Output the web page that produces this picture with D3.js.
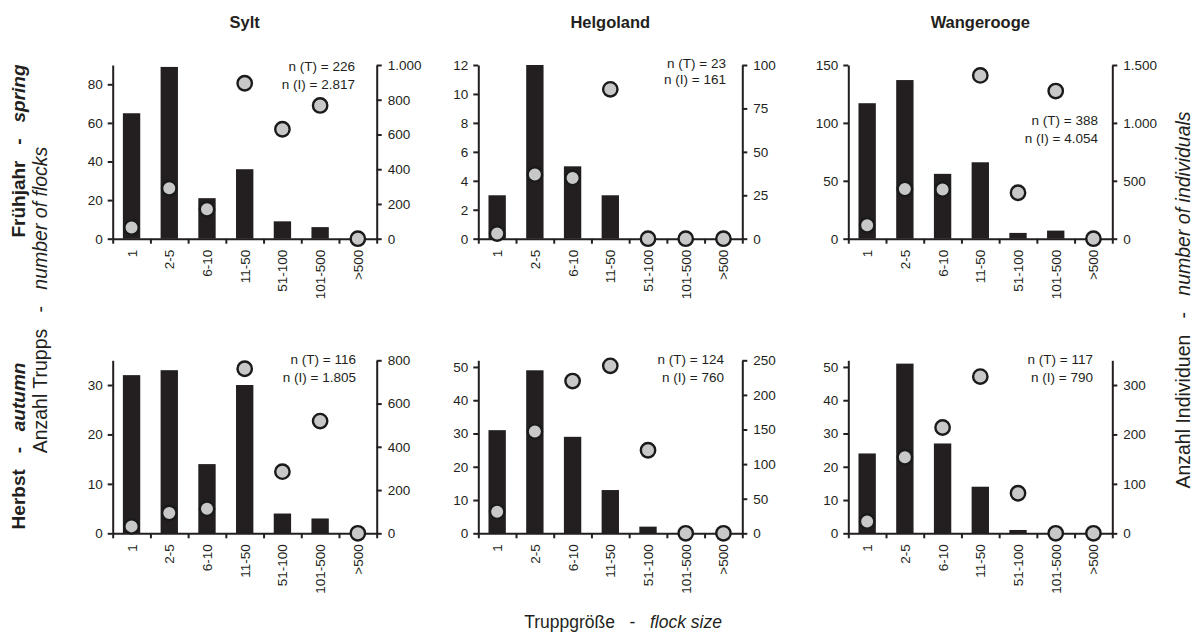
<!DOCTYPE html>
<html><head><meta charset="utf-8">
<script src="https://cdn.jsdelivr.net/npm/d3@7/dist/d3.min.js"></script>
<style>
html,body{margin:0;padding:0;background:#fff;}
svg text{font-family:"Liberation Sans",Arial,sans-serif;fill:#231f20;}
</style></head>
<body>
<svg id="chart" width="1204" height="639"></svg>
<script>
// ---------- data ----------
const categories = ["1","2-5","6-10","11-50","51-100","101-500",">500"];
const islands = ["Sylt","Helgoland","Wangerooge"];
const seasonLabels = [["Frühjahr","spring"],["Herbst","autumn"]];

const flocksSyltSpring        = [65, 89, 21, 36, 9, 6, 0];
const indivSyltSpring         = [65, 290, 170, 895, 630, 767, 0];
const flocksHelgolandSpring   = [3, 12, 5, 3, 0, 0, 0];
const indivHelgolandSpring    = [3, 37, 35, 86, 0, 0, 0];
const flocksWangeroogeSpring  = [117, 137, 56, 66, 5, 7, 0];
const indivWangeroogeSpring   = [117, 430, 425, 1410, 397, 1275, 0];
const flocksSyltAutumn        = [32, 33, 14, 30, 4, 3, 0];
const indivSyltAutumn         = [32, 94, 114, 761, 285, 519, 0];
const flocksHelgolandAutumn   = [31, 49, 29, 13, 2, 0, 0];
const indivHelgolandAutumn    = [31, 147, 220, 242, 120, 0, 0];
const flocksWangeroogeAutumn  = [24, 51, 27, 14, 1, 0, 0];
const indivWangeroogeAutumn   = [24, 154, 214, 317, 81, 0, 0];

const nT = [[226, 23, 388], [116, 124, 117]];
const nI = [[2817, 161, 4054], [1805, 760, 790]];

const leftMax   = [[90, 12, 150], [35, 52, 52]];
const leftTicks = [[[0,20,40,60,80],[0,2,4,6,8,10,12],[0,50,100,150]],
                   [[0,10,20,30],[0,10,20,30,40,50],[0,10,20,30,40,50]]];
const rightMax   = [[1000, 100, 1500], [800, 250, 350]];
const rightTicks = [[[0,200,400,600,800,1000],[0,25,50,75,100],[0,500,1000,1500]],
                    [[0,200,400,600,800],[0,50,100,150,200,250],[0,100,200,300]]];

const flocks = [[flocksSyltSpring, flocksHelgolandSpring, flocksWangeroogeSpring],
                [flocksSyltAutumn, flocksHelgolandAutumn, flocksWangeroogeAutumn]];
const indiv  = [[indivSyltSpring, indivHelgolandSpring, indivWangeroogeSpring],
                [indivSyltAutumn, indivHelgolandAutumn, indivWangeroogeAutumn]];

// ---------- layout ----------
const panelX = [112.7, 478.3, 848.3];
const panelW = 264;
const rowTop = [65, 360.3];
const rowZero = [238.7, 533.3];
const annot = [[{x:355,y:[71,89]},{x:726,y:[68,84]},{x:1098,y:[125,143]}],
               [{x:356,y:[364,382]},{x:724,y:[364,382]},{x:1093,y:[364,382]}]];
const ink = "#231f20";
const fs = "13.5px";
const loc = d3.formatLocale({decimal:",", thousands:".", grouping:[3], currency:["","€"]});
const fmt = loc.format(",d");

const svg = d3.select("#chart");

for (let r = 0; r < 2; r++) {
  for (let c = 0; c < 3; c++) {
    const x0 = panelX[c];
    const g = svg.append("g");
    const x = d3.scaleBand().domain(categories).range([x0, x0 + panelW]).padding(0);
    const yL = d3.scaleLinear().domain([0, leftMax[r][c]]).range([rowZero[r], rowTop[r]]);
    const yR = d3.scaleLinear().domain([0, rightMax[r][c]]).range([rowZero[r], rowTop[r]]);
    const bw = x.bandwidth() * 0.46;

    g.selectAll("rect.bar").data(flocks[r][c]).join("rect")
      .attr("x", (d, i) => x(categories[i]) + x.bandwidth() / 2 - bw / 2)
      .attr("y", d => yL(d))
      .attr("width", bw)
      .attr("height", d => yL(0) - yL(d))
      .attr("fill", ink);

    const aL = g.append("g").attr("transform", `translate(${x0},0)`)
      .call(d3.axisLeft(yL).tickValues(leftTicks[r][c]).tickSize(5).tickSizeOuter(0).tickPadding(5).tickFormat(fmt));
    const aR = g.append("g").attr("transform", `translate(${x0 + panelW},0)`)
      .call(d3.axisRight(yR).tickValues(rightTicks[r][c]).tickSize(5).tickSizeOuter(0).tickPadding(6).tickFormat(fmt));
    const xi = d3.scaleLinear().domain([0, categories.length]).range([x0, x0 + panelW]);
    const aB = g.append("g").attr("transform", `translate(0,${rowZero[r]})`)
      .call(d3.axisBottom(xi).tickValues(d3.range(0, categories.length + 1)).tickSize(5).tickSizeOuter(0).tickFormat(""));
    [aL, aR, aB].forEach(a => {
      a.select(".domain").attr("stroke", ink).attr("stroke-width", 2);
      a.selectAll(".tick line").attr("stroke", ink).attr("stroke-width", 2);
      a.selectAll(".tick text").attr("font-size", fs).attr("fill", ink)
        .style("font-family", "'Liberation Sans', Arial, sans-serif");
    });

    g.selectAll("text.cat").data(categories).join("text")
      .attr("transform", d => `translate(${x(d) + x.bandwidth() / 2 + 5},${rowZero[r] + 11}) rotate(-90)`)
      .attr("text-anchor", "end")
      .attr("font-size", fs)
      .text(d => d);

    g.selectAll("circle.ind").data(indiv[r][c]).join("circle")
      .attr("cx", (d, i) => x(categories[i]) + x.bandwidth() / 2)
      .attr("cy", d => yR(d))
      .attr("r", 7.2)
      .attr("fill", "#c8c8c8")
      .attr("stroke", "#1a1a1a")
      .attr("stroke-width", 2.4);

    const a = annot[r][c];
    g.append("text").attr("x", a.x).attr("y", a.y[0]).attr("text-anchor", "end")
      .attr("font-size", fs).text(`n (T) = ${fmt(nT[r][c])}`);
    g.append("text").attr("x", a.x).attr("y", a.y[1]).attr("text-anchor", "end")
      .attr("font-size", fs).text(`n (I) = ${fmt(nI[r][c])}`);
  }
}

svg.selectAll("text.title").data(islands).join("text")
  .attr("x", (d, i) => panelX[i] + panelW / 2)
  .attr("y", 28)
  .attr("text-anchor", "middle")
  .attr("font-size", "16.5px")
  .attr("font-weight", "bold")
  .text(d => d);

const sp = "\u00a0\u00a0\u00a0";
const seasonCenter = [151, 446];
seasonLabels.forEach((s, i) => {
  const t = svg.append("text")
    .attr("transform", `translate(25,${seasonCenter[i]}) rotate(-90)`)
    .attr("text-anchor", "middle")
    .attr("font-size", "19px")
    .attr("font-weight", "bold");
  t.append("tspan").text(s[0] + sp + "-" + sp);
  t.append("tspan").attr("font-style", "italic").text(s[1]);
});

const lt = svg.append("text")
  .attr("transform", `translate(47,300) rotate(-90)`)
  .attr("text-anchor", "middle").attr("font-size", "19.5px");
lt.append("tspan").text("Anzahl Trupps" + sp + "-" + sp);
lt.append("tspan").attr("font-style", "italic").text("number of flocks");

const rt = svg.append("text")
  .attr("transform", `translate(1190,300) rotate(-90)`)
  .attr("text-anchor", "middle").attr("font-size", "19.5px");
rt.append("tspan").text("Anzahl Individuen" + sp + "-" + sp);
rt.append("tspan").attr("font-style", "italic").text("number of individuals");

const bt = svg.append("text")
  .attr("x", 623).attr("y", 628)
  .attr("text-anchor", "middle").attr("font-size", "17.5px");
bt.append("tspan").text("Truppgröße" + sp + "-" + sp);
bt.append("tspan").attr("font-style", "italic").text("flock size");
</script>
</body></html>
